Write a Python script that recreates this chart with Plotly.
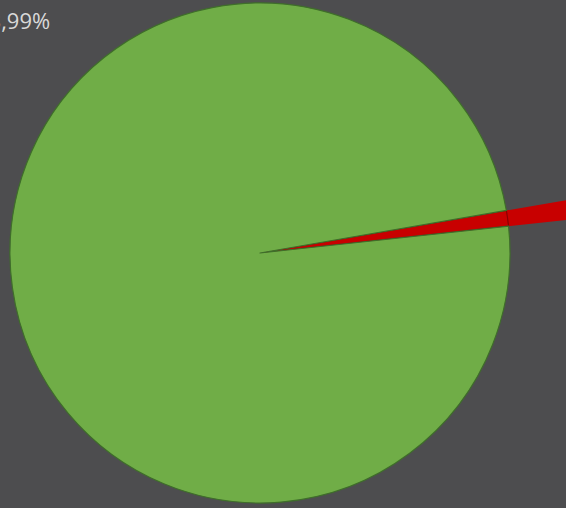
import math
import plotly.graph_objects as go

# ---- data ----
labels = ["Rest", "Hauptanteil"]
values = [1.01, 98.99]
colors = ["#c80000", "#70ad47"]
label_text = f"{values[1]:.2f}".replace(".", ",") + "%"

# ---- geometry / style ----
W, H = 566, 508
cx, cy_top, R = 260, 253, 250          # pie centre (px from left/top) and radius
rotation = 80.2                          # start of first slice, deg clockwise from 12 o'clock
bg = "#4d4d4f"

fig = go.Figure()

# red slice extension beyond the pie rim (drawn under the pie, same apex and angles)
total = sum(values)
a1 = math.radians(rotation)
a2 = math.radians(rotation + values[0] / total * 360)
L = 480
cy_up = H - cy_top
wx = [cx, cx + L * math.sin(a1), cx + L * math.sin(a2), cx]
wy = [cy_up, cy_up + L * math.cos(a1), cy_up + L * math.cos(a2), cy_up]
fig.add_trace(go.Scatter(x=wx, y=wy, mode="lines", fill="toself",
                         fillcolor=colors[0], line=dict(width=0, color=colors[0]),
                         hoverinfo="skip", showlegend=False))

fig.add_trace(go.Pie(
    labels=labels, values=values, sort=False, direction="clockwise",
    rotation=rotation,
    marker=dict(colors=colors, line=dict(color=["#8a0000", "#3f6e2a"], width=1.2)),
    textinfo="none", hoverinfo="label+percent", showlegend=False,
    domain=dict(x=[(cx - R) / W, (cx + R) / W],
                y=[(cy_up - R) / H, (cy_up + R) / H]),
))

fig.add_annotation(text=label_text, xref="paper", yref="paper",
                   x=51 / W, y=1 - 19.5 / H, xanchor="right", yanchor="middle",
                   showarrow=False, borderpad=0,
                   font=dict(family="Open Sans", size=22, color="#d9d9d9"))

fig.update_layout(
    width=W, height=H,
    margin=dict(l=0, r=0, t=0, b=0),
    paper_bgcolor=bg, plot_bgcolor=bg,
    xaxis=dict(range=[0, W], visible=False, fixedrange=True),
    yaxis=dict(range=[0, H], visible=False, fixedrange=True),
    showlegend=False,
)

fig.write_html("out.html")
